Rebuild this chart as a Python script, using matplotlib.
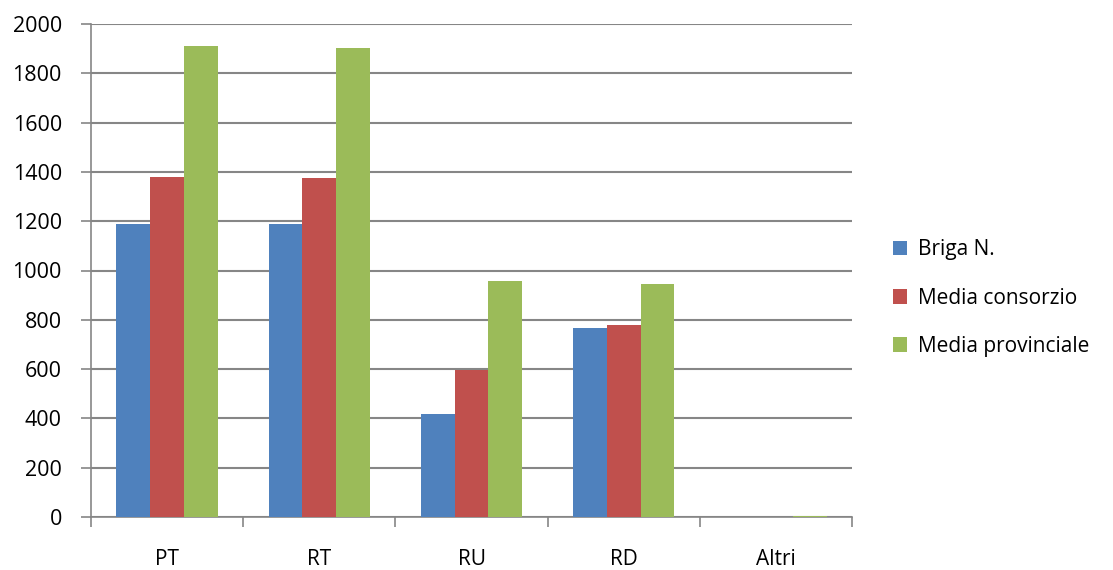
import matplotlib
matplotlib.use("Agg")
import matplotlib.pyplot as plt
import numpy as np

categories = ["PT", "RT", "RU", "RD", "Altri"]
series_names = ["Briga N.", "Media consorzio", "Media provinciale"]
briga = [1188, 1188, 418, 767, 0]
consorzio = [1378, 1375, 597, 779, 0]
provinciale = [1911, 1903, 957, 945, 5]
colors = ["#4F81BD", "#C0504D", "#9BBB59"]
y_ticks = [0, 200, 400, 600, 800, 1000, 1200, 1400, 1600, 1800, 2000]

plt.rcParams["font.family"] = ["Open Sans", "DejaVu Sans"]

fig = plt.figure(figsize=(11.13, 5.70), dpi=100)
ax = fig.add_axes([91 / 1113, 1 - 517 / 570, (852 - 91) / 1113, (517 - 24) / 570])

grid_c = "#868686"
x = np.arange(len(categories))
bw = 1 / 4.5
for i, (vals, name) in enumerate(zip([briga, consorzio, provinciale], series_names)):
    ax.bar(x + (i - 1) * bw, vals, width=bw, color=colors[i], label=name, zorder=3)

ax.set_xlim(-0.5, len(categories) - 0.5)
ax.set_ylim(0, 2000)
ax.set_yticks(y_ticks)
ax.set_yticklabels([str(v) for v in y_ticks])
ax.yaxis.grid(True, color=grid_c, linewidth=1.5, zorder=0)
ax.set_axisbelow(True)

for s in ["top", "right"]:
    ax.spines[s].set_visible(False)
for s in ["left", "bottom"]:
    ax.spines[s].set_color(grid_c)
    ax.spines[s].set_linewidth(1.2)

ax.set_xticks(x)
ax.set_xticklabels(categories)
ax.tick_params(axis="x", length=0, pad=23, labelsize=15, labelcolor="black")
ax.set_xticks(np.arange(len(categories) + 1) - 0.5, minor=True)
ax.tick_params(axis="x", which="minor", length=7, color=grid_c, width=1.2, direction="out")
ax.tick_params(axis="y", length=7, color=grid_c, width=1.2, pad=14, labelsize=15.5, labelcolor="black")

handles, labels = ax.get_legend_handles_labels()
fig.legend(handles, labels, loc="center left", bbox_to_anchor=(874 / 1113, 1 - 298 / 570),
           frameon=False, fontsize=15, handlelength=0.7, handleheight=0.7,
           handletextpad=0.5, labelspacing=1.3)

fig.savefig("out.png", dpi=100)
